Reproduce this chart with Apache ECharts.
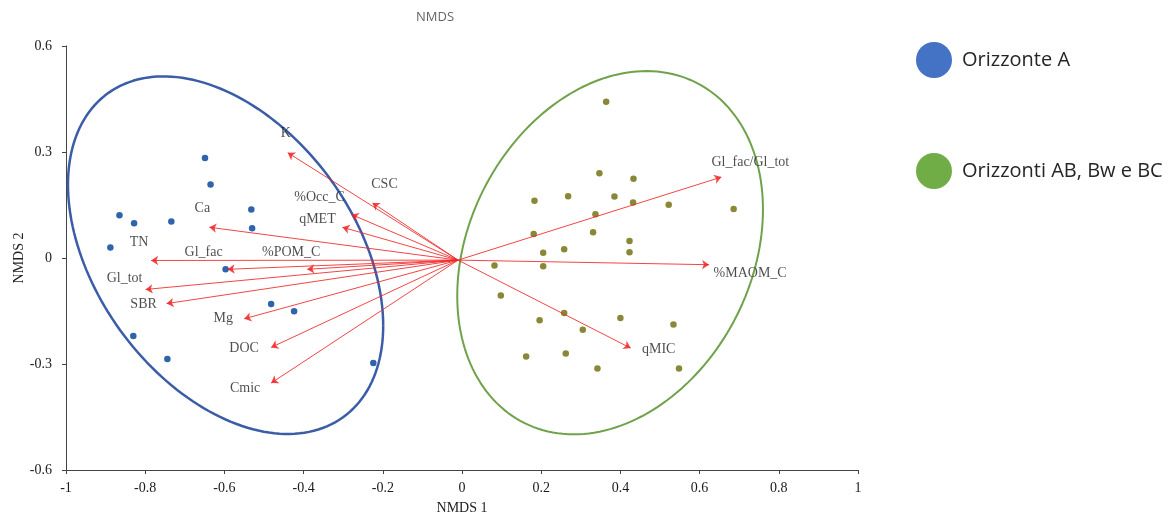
<!DOCTYPE html>
<html>
<head>
<meta charset="utf-8">
<script src="https://cdn.jsdelivr.net/npm/echarts@6/dist/echarts.min.js"></script>
<style>
html,body{margin:0;padding:0;background:#fff;}
#chart{width:1176px;height:513px;}
</style>
</head>
<body>
<div id="chart"></div>
<script>
// ---------- data ----------
const groupNames = ['Orizzonte A', 'Orizzonti AB, Bw e BC'];

const groupA = [
  [-0.649, 0.283], [-0.635, 0.208], [-0.865, 0.121], [-0.828, 0.098],
  [-0.734, 0.103], [-0.532, 0.137], [-0.530, 0.084], [-0.888, 0.030],
  [-0.597, -0.032], [-0.482, -0.130], [-0.424, -0.151], [-0.830, -0.221],
  [-0.744, -0.286], [-0.224, -0.297]
];

const groupB = [
  [0.364, 0.442], [0.347, 0.240], [0.433, 0.224], [0.183, 0.162],
  [0.268, 0.175], [0.385, 0.174], [0.432, 0.157], [0.522, 0.151],
  [0.686, 0.139], [0.337, 0.124], [0.181, 0.068], [0.331, 0.073],
  [0.423, 0.048], [0.423, 0.016], [0.205, 0.015], [0.258, 0.025],
  [0.082, -0.021], [0.205, -0.023], [0.098, -0.106], [0.258, -0.156],
  [0.196, -0.176], [0.400, -0.170], [0.534, -0.188], [0.305, -0.203],
  [0.162, -0.279], [0.262, -0.270], [0.342, -0.313], [0.548, -0.313]
];

const vectorNames = ['K', 'CSC', '%Occ_C', 'qMET', 'Ca', 'TN', 'Gl_fac', '%POM_C',
  'Gl_tot', 'SBR', 'Mg', 'DOC', 'Cmic', 'Gl_fac/Gl_tot', '%MAOM_C', 'qMIC'];
const vectorX = [-0.440, -0.226, -0.279, -0.302, -0.638, -0.785, -0.592, -0.391,
  -0.799, -0.746, -0.550, -0.482, -0.482, 0.655, 0.624, 0.426];
const vectorY = [0.298, 0.156, 0.123, 0.087, 0.087, -0.007, -0.032, -0.032,
  -0.089, -0.129, -0.172, -0.253, -0.354, 0.229, -0.019, -0.255];
const vectorOrigin = [-0.01, -0.006];

// ellipses: center x, center y, half-width, half-height, correlation
const ellipseA = { cx: -0.597, cy: 0.008, rx: 0.398, ry: 0.506, rho: -0.394 };
const ellipseB = { cx: 0.374, cy: 0.015, rx: 0.386, ry: 0.514, rho: 0.238 };

const xTicks = { min: -1, max: 1, interval: 0.2 };
const yTicks = { min: -0.6, max: 0.6, interval: 0.3 };

// ---------- styling / layout (not data) ----------
const labelOffsets = {
  'K': [-2, -19], 'CSC': [12, -19], '%Occ_C': [-32, -17], 'qMET': [-25, -8],
  'Ca': [-7, -19], 'TN': [-12, -18], 'Gl_fac': [-24, -17], '%POM_C': [-16, -17],
  'Gl_tot': [-21, -11], 'SBR': [-23, 1], 'Mg': [-21, 0], 'DOC': [-27, 1],
  'Cmic': [-26, 5], 'Gl_fac/Gl_tot': [29, -15], '%MAOM_C': [41, 9], 'qMIC': [28, 1]
};

function ellipsePath(e) {
  const pts = [];
  const n = 180;
  const s = Math.sqrt(1 - e.rho * e.rho);
  for (let i = 0; i <= n; i++) {
    const t = 2 * Math.PI * i / n;
    pts.push([e.cx + e.rx * Math.cos(t), e.cy + e.ry * (e.rho * Math.cos(t) + s * Math.sin(t))]);
  }
  return pts;
}

const serif = '"Liberation Serif", "DejaVu Serif", serif';

const arrowData = vectorNames.map((n, i) => ({ coords: [vectorOrigin, [vectorX[i], vectorY[i]]] }));
const labelData = vectorNames.map((n, i) => ({
  name: n, value: [vectorX[i], vectorY[i]],
  label: { offset: labelOffsets[n] }
}));

const chart = echarts.init(document.getElementById('chart'));
chart.setOption({
  animation: false,
  backgroundColor: '#ffffff',
  title: {
    text: 'NMDS', left: 411, top: 6,
    textStyle: { fontFamily: '"Open Sans", sans-serif', fontSize: 13, fontWeight: 'normal', color: '#666' }
  },
  legend: {
    orient: 'vertical', left: 911, top: 37, itemGap: 75,
    itemWidth: 36, itemHeight: 36, icon: 'circle',
    textStyle: { fontFamily: '"Open Sans", sans-serif', fontSize: 20, color: '#262626', padding: [0, 0, 0, 5] },
    data: [
      { name: groupNames[0], itemStyle: { color: '#4472c4', opacity: 1 } },
      { name: groupNames[1], itemStyle: { color: '#70ad47', opacity: 1 } }
    ]
  },
  grid: { left: 66, right: 318, top: 46, bottom: 43, containLabel: false, outerBoundsMode: 'none' },
  xAxis: {
    type: 'value', min: xTicks.min, max: xTicks.max, interval: xTicks.interval,
    name: 'NMDS 1', nameLocation: 'middle', nameGap: 31,
    nameTextStyle: { fontFamily: serif, fontSize: 14, color: '#222' },
    axisLine: { onZero: false, lineStyle: { color: '#444', width: 1 } },
    axisTick: { show: true, length: 4, lineStyle: { color: '#444' } },
    axisLabel: { fontFamily: serif, fontSize: 14, color: '#1a1a1a', margin: 11 },
    splitLine: { show: false }
  },
  yAxis: {
    type: 'value', min: yTicks.min, max: yTicks.max, interval: yTicks.interval,
    name: 'NMDS 2', nameLocation: 'middle', nameGap: 40, nameRotate: 90,
    nameMoveOverlap: false,
    nameTextStyle: { fontFamily: serif, fontSize: 14, color: '#222' },
    axisLine: { onZero: false, lineStyle: { color: '#444', width: 1 } },
    axisTick: { show: true, length: 4, lineStyle: { color: '#444' } },
    axisLabel: { fontFamily: serif, fontSize: 14, color: '#1a1a1a', margin: 14 },
    splitLine: { show: false }
  },
  series: [
    {
      type: 'line', data: ellipsePath(ellipseA), showSymbol: false, symbol: 'none',
      lineStyle: { color: '#3b5ca6', width: 2.5 }, silent: true, z: 2
    },
    {
      type: 'line', data: ellipsePath(ellipseB), showSymbol: false, symbol: 'none',
      lineStyle: { color: '#6fa24a', width: 2 }, silent: true, z: 2
    },
    {
      name: groupNames[0], type: 'scatter', data: groupA, symbolSize: 6.5,
      itemStyle: { color: '#2f63ad', opacity: 1 }, z: 3
    },
    {
      name: groupNames[1], type: 'scatter', data: groupB, symbolSize: 6.5,
      itemStyle: { color: '#8a8838', opacity: 1 }, z: 3
    },
    {
      type: 'lines', coordinateSystem: 'cartesian2d', data: arrowData,
      symbol: ['none', 'arrow'], symbolSize: 7,
      lineStyle: { color: '#f02424', width: 1, opacity: 0.85, curveness: 0 }, z: 4
    },
    {
      type: 'scatter', data: labelData, symbolSize: 0, z: 5, silent: true,
      label: {
        show: true, position: 'inside', formatter: '{b}',
        fontFamily: serif, fontSize: 14, color: '#1f1f1f'
      }
    }
  ]
});
</script>
</body>
</html>
